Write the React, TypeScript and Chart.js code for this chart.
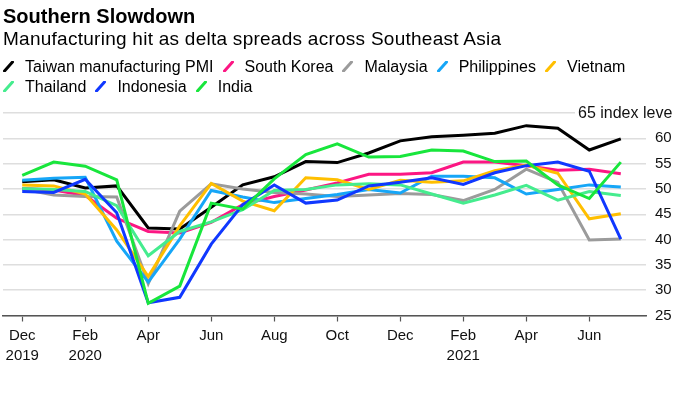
import React, { useEffect, useRef } from "react";
import { Chart, registerables } from "chart.js";

Chart.register(...registerables);

const months = [
  "Dec 2019", "Jan 2020", "Feb 2020", "Mar 2020", "Apr 2020", "May 2020", "Jun 2020",
  "Jul 2020", "Aug 2020", "Sep 2020", "Oct 2020", "Nov 2020", "Dec 2020", "Jan 2021",
  "Feb 2021", "Mar 2021", "Apr 2021", "May 2021", "Jun 2021", "Jul 2021",
];

const tickLabels: Record<number, string | string[]> = {
  0: ["Dec", "2019"],
  2: ["Feb", "2020"],
  4: "Apr",
  6: "Jun",
  8: "Aug",
  10: "Oct",
  12: "Dec",
  14: ["Feb", "2021"],
  16: "Apr",
  18: "Jun",
};

const yTicks = [25, 30, 35, 40, 45, 50, 55, 60, 65];

const taiwan = [51.4, 51.8, 50.2, 50.6, 42.3, 42.1, 46.4, 50.8, 52.4, 55.4, 55.2, 57.1, 59.5, 60.3, 60.6, 61.0, 62.5, 62.0, 57.7, 59.9];
const southKorea = [50.1, 49.8, 48.7, 44.2, 41.6, 41.3, 43.4, 46.9, 48.5, 49.8, 51.2, 52.9, 52.9, 53.2, 55.3, 55.3, 54.6, 53.7, 53.9, 53.0];
const malaysia = [50.0, 48.8, 48.5, 48.4, 31.3, 45.6, 51.0, 50.0, 49.3, 49.0, 48.5, 48.8, 49.1, 48.9, 47.7, 49.9, 53.9, 51.3, 39.9, 40.1];
const philippines = [51.7, 52.1, 52.3, 39.7, 31.6, 40.1, 49.7, 48.4, 47.3, 48.1, 48.9, 49.9, 49.2, 52.5, 52.5, 52.2, 49.0, 49.9, 50.8, 50.4];
const vietnam = [50.8, 50.6, 49.0, 41.9, 32.7, 42.7, 51.1, 47.6, 45.7, 52.2, 51.8, 49.9, 51.7, 51.3, 51.6, 53.6, 54.7, 53.1, 44.1, 45.1];
const thailand = [50.1, 49.9, 49.5, 46.7, 36.8, 41.6, 43.5, 45.9, 49.7, 49.9, 50.8, 51.0, 50.8, 49.0, 47.2, 48.8, 50.7, 47.8, 49.5, 48.7];
const indonesia = [49.5, 49.3, 51.9, 45.3, 27.5, 28.6, 39.1, 46.9, 50.8, 47.2, 47.8, 50.6, 51.3, 52.2, 50.9, 53.2, 54.6, 55.3, 53.5, 40.1];
const india = [52.7, 55.3, 54.5, 51.8, 27.4, 30.8, 47.2, 46.0, 52.0, 56.8, 58.9, 56.3, 56.4, 57.7, 57.5, 55.4, 55.5, 50.8, 48.1, 55.3];

const seriesNames = [
  "Taiwan manufacturing PMI", "South Korea", "Malaysia", "Philippines",
  "Vietnam", "Thailand", "Indonesia", "India",
];
const seriesValues = [taiwan, southKorea, malaysia, philippines, vietnam, thailand, indonesia, india];
const seriesColors = ["#000000", "#fc1683", "#9b9b9b", "#16a6f7", "#ffbf00", "#45ec8e", "#1038ff", "#18e63c"];

const FONT = "'Liberation Sans', Arial, Helvetica, sans-serif";

const topLabelPlugin = {
  id: "topLabel",
  afterDraw(chart: any) {
    const ctx = chart.ctx;
    const y = chart.scales.y.getPixelForValue(65);
    ctx.save();
    ctx.fillStyle = "#ffffff";
    ctx.fillRect(575, y - 9, 120, 18);
    ctx.fillStyle = "#111111";
    ctx.font = `16px ${FONT}`;
    ctx.textBaseline = "middle";
    ctx.textAlign = "left";
    ctx.fillText("65 index level", 578, y + 0.5);
    ctx.restore();
  },
};

function Slash({ color }: { color: string }) {
  return (
    <svg width={14} height={11} style={{ verticalAlign: "baseline", marginRight: 8 }}>
      <line x1={1.5} y1={10} x2={9.5} y2={1} stroke={color} strokeWidth={3} strokeLinecap="round" />
    </svg>
  );
}

export default function App() {
  const canvasRef = useRef<HTMLCanvasElement | null>(null);

  useEffect(() => {
    if (!canvasRef.current) return;
    const n = seriesNames.length;
    const chart = new Chart(canvasRef.current, {
      type: "line",
      data: {
        labels: months,
        datasets: seriesNames.map((name, i) => ({
          label: name,
          data: seriesValues[i].map((v, j) => ({ x: j, y: v })),
          borderColor: seriesColors[i],
          backgroundColor: seriesColors[i],
          borderWidth: 3,
          pointRadius: 0,
          tension: 0,
          borderJoinStyle: "miter" as const,
          order: n - 1 - i,
        })),
      },
      options: {
        animation: false,
        responsive: false,
        devicePixelRatio: 1,
        layout: { padding: { top: 113, left: 3, right: 0, bottom: 0 } },
        plugins: { legend: { display: false }, tooltip: { enabled: false }, title: { display: false } },
        scales: {
          x: {
            type: "linear",
            min: -0.61,
            max: 19.8,
            afterFit: (s: any) => { s.height = 82.5; },
            afterBuildTicks: (s: any) => {
              s.ticks = Object.keys(tickLabels).map((k) => ({ value: Number(k) }));
            },
            grid: { drawOnChartArea: false, drawTicks: true, tickLength: 6, tickColor: "#555555", tickWidth: 1.2 },
            border: { display: true, color: "#555555", width: 1.5 },
            ticks: {
              autoSkip: false,
              maxRotation: 0,
              padding: 5,
              color: "#111111",
              font: { family: FONT, size: 15, lineHeight: 1.3 },
              callback: (v: any) => tickLabels[Number(v)] ?? "",
            },
          },
          y: {
            position: "right",
            min: 25,
            max: 65,
            afterFit: (s: any) => { s.width = 27; },
            afterBuildTicks: (s: any) => { s.ticks = yTicks.map((v) => ({ value: v })); },
            grid: { color: "#dedede", lineWidth: 1.5, drawTicks: false },
            border: { display: false },
            ticks: {
              padding: 9,
              color: "#111111",
              font: { family: FONT, size: 15 },
              callback: (v: any) => (Number(v) === 65 ? "" : String(v)),
            },
          },
        },
      },
      plugins: [topLabelPlugin],
    });
    return () => chart.destroy();
  }, []);

  return (
    <div style={{ position: "absolute", left: 0, top: 0, width: 673, height: 398, background: "#fff", overflow: "hidden", fontFamily: FONT, color: "#000" }}>
      <canvas ref={canvasRef} width={673} height={398} style={{ position: "absolute", left: 0, top: 0, width: 673, height: 398 }} />
      <div style={{ position: "absolute", left: 3, top: 6, fontSize: 20, fontWeight: 700, lineHeight: "20px", whiteSpace: "nowrap" }}>
        Southern Slowdown
      </div>
      <div style={{ position: "absolute", left: 3, top: 28.1, fontSize: 19, letterSpacing: "0.26px", lineHeight: "22px", whiteSpace: "nowrap" }}>
        Manufacturing hit as delta spreads across Southeast Asia
      </div>
      <div style={{ position: "absolute", left: 3, top: 57, width: 668, fontSize: 16, lineHeight: "19.5px" }}>
        {seriesNames.map((name, i) => (
          <span key={name} style={{ display: "inline-block", marginRight: 9, whiteSpace: "nowrap" }}>
            <Slash color={seriesColors[i]} />
            {name}
          </span>
        ))}
      </div>
    </div>
  );
}
